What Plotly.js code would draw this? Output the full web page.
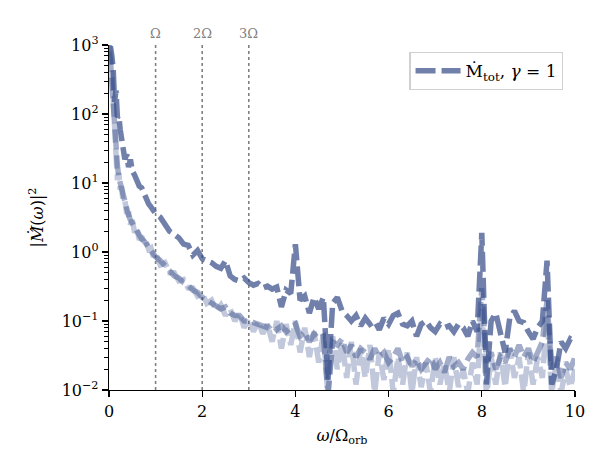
<!DOCTYPE html>
<html>
<head>
<meta charset="utf-8">
<script src="https://cdn.plot.ly/plotly-3.0.1.min.js"></script>
<style>
  html, body { margin: 0; padding: 0; background: #fff; }
  #chart { width: 601px; height: 469px; }
</style>
</head>
<body>
<div id="chart"></div>
<script>
// frequency grid, omega / Omega_orb
var freq = [0, 0.03, 0.06, 0.09, 0.12, 0.15, 0.18, 0.21, 0.24, 0.27, 0.3, 0.34, 0.38, 0.42, 0.46,
  0.5, 0.55, 0.6, 0.65, 0.7, 0.75, 0.8, 0.85, 0.9, 0.95, 1.0,
  1.1, 1.2, 1.3, 1.4, 1.5, 1.6, 1.7, 1.8, 1.9, 2.0,
  2.1, 2.2, 2.3, 2.4, 2.5, 2.6, 2.7, 2.8, 2.9, 3.0,
  3.1, 3.2, 3.3, 3.4, 3.5, 3.6, 3.7, 3.8, 3.9, 4.0,
  4.1, 4.2, 4.3, 4.4, 4.5, 4.6, 4.7, 4.8, 4.9, 5.0,
  5.1, 5.2, 5.3, 5.4, 5.5, 5.6, 5.7, 5.8, 5.9, 6.0,
  6.1, 6.2, 6.3, 6.4, 6.5, 6.6, 6.7, 6.8, 6.9, 7.0,
  7.1, 7.2, 7.3, 7.4, 7.5, 7.6, 7.7, 7.8, 7.9, 8.0,
  8.1, 8.2, 8.3, 8.4, 8.5, 8.6, 8.7, 8.8, 8.9, 9.0,
  9.1, 9.2, 9.3, 9.4, 9.5, 9.6, 9.7, 9.8, 9.9, 10.0];

// |Mdot_tot(omega)|^2, gamma = 1
var powerTot = [900, 950, 700, 450, 150, 220, 90, 95, 60, 45, 38, 22, 26, 17, 22,
  15, 13, 11, 9, 8.5, 7, 6, 5, 4.5, 4, 3.6,
  3.2, 2.5, 2.0, 1.8, 1.6, 1.3, 1.25, 0.9, 1.05, 0.8,
  0.75, 0.7, 0.62, 0.58, 0.75, 0.45, 0.4, 0.38, 0.42, 0.36,
  0.33, 0.35, 0.3, 0.32, 0.29, 0.31, 0.16, 0.28, 0.25, 1.3,
  0.2, 0.23, 0.13, 0.22, 0.15, 0.22, 0.014, 0.18, 0.22, 0.14,
  0.12, 0.1, 0.12, 0.085, 0.11, 0.09, 0.1, 0.075, 0.11, 0.09,
  0.12, 0.13, 0.09, 0.085, 0.1, 0.06, 0.09, 0.1, 0.08, 0.07,
  0.09, 0.08, 0.085, 0.07, 0.09, 0.08, 0.06, 0.1, 0.07, 1.9,
  0.012, 0.1, 0.13, 0.07, 0.035, 0.11, 0.14, 0.1, 0.095, 0.07,
  0.055, 0.08, 0.1, 0.75, 0.012, 0.02, 0.05, 0.04, 0.055, 0.05];

// companion spectra (no legend entry)
var powerB = [800, 600, 300, 120, 60, 35, 18, 12, 10, 8, 6.5, 5, 4, 3.4, 2.9,
  2.6, 2.2, 1.9, 1.7, 1.55, 1.45, 1.3, 1.2, 1.05, 0.95, 0.85,
  0.75, 0.62, 0.55, 0.45, 0.42, 0.36, 0.33, 0.28, 0.26, 0.22,
  0.2, 0.18, 0.17, 0.15, 0.16, 0.13, 0.12, 0.12, 0.1, 0.1,
  0.095, 0.09, 0.085, 0.08, 0.09, 0.075, 0.085, 0.07, 0.08, 0.09,
  0.06, 0.07, 0.05, 0.065, 0.055, 0.06, 0.009, 0.05, 0.045, 0.055,
  0.035, 0.045, 0.03, 0.04, 0.035, 0.028, 0.04, 0.03, 0.035, 0.025,
  0.03, 0.04, 0.025, 0.03, 0.022, 0.028, 0.02, 0.025, 0.03, 0.02,
  0.025, 0.018, 0.03, 0.022, 0.025, 0.02, 0.028, 0.035, 0.03, 0.3,
  0.025, 0.035, 0.02, 0.03, 0.025, 0.04, 0.03, 0.045, 0.03, 0.04,
  0.025, 0.035, 0.05, 0.2, 0.02, 0.03, 0.015, 0.025, 0.02, 0.03];

var powerC = [1000, 800, 400, 150, 80, 25, 11, 14, 8, 9, 5.5, 5.7, 3.6, 3.8, 2.5,
  2.9, 1.9, 2.2, 1.5, 1.7, 1.3, 1.4, 1.1, 1.15, 0.85, 0.95,
  0.65, 0.7, 0.5, 0.5, 0.38, 0.4, 0.3, 0.3, 0.23, 0.25,
  0.18, 0.2, 0.14, 0.17, 0.12, 0.15, 0.1, 0.13, 0.08, 0.11,
  0.07, 0.1, 0.065, 0.09, 0.05, 0.1, 0.04, 0.09, 0.045, 0.1,
  0.035, 0.08, 0.03, 0.07, 0.025, 0.065, 0.008, 0.06, 0.02, 0.05,
  0.015, 0.05, 0.012, 0.04, 0.015, 0.045, 0.009, 0.035, 0.014, 0.04,
  0.009, 0.03, 0.012, 0.035, 0.009, 0.03, 0.011, 0.025, 0.009, 0.03,
  0.012, 0.025, 0.009, 0.03, 0.011, 0.02, 0.009, 0.025, 0.012, 0.15,
  0.008, 0.03, 0.012, 0.035, 0.011, 0.04, 0.015, 0.03, 0.009, 0.035,
  0.012, 0.03, 0.015, 0.12, 0.009, 0.025, 0.009, 0.02, 0.011, 0.02];

var harmonics = [1, 2, 3];
var harmonicLabels = ['Ω', '2Ω', '3Ω'];

var yTickVals = [0.01, 0.1, 1, 10, 100, 1000];
var yTickText = ['10<sup>−2</sup>', '10<sup>−1</sup>', '10<sup>0</sup>',
  '10<sup>1</sup>', '10<sup>2</sup>', '10<sup>3</sup>'];

var minorVals = [];
for (var e = -2; e < 3; e++) {
  for (var m = 2; m < 10; m++) minorVals.push(m * Math.pow(10, e));
}

var base = '51,74,136';
var serif = 'DejaVu Serif';

function trace(y, alpha, name, show) {
  return {
    x: freq,
    y: y,
    type: 'scatter',
    mode: 'lines',
    name: name,
    showlegend: show,
    hoverinfo: 'x+y',
    line: {color: 'rgba(' + base + ',' + alpha + ')', width: 5.5, dash: '20px,6px'}
  };
}

var data = [
  trace(powerC, 0.3, 'c', false),
  trace(powerB, 0.45, 'b', false),
  trace(powerTot, 0.7, 'Ṁ<sub>tot</sub>, <i>γ</i> = 1', true)
];

var shapes = harmonics.map(function (h) {
  return {
    type: 'line', xref: 'x', yref: 'paper', x0: h, x1: h, y0: 0, y1: 1,
    layer: 'below',
    line: {color: '#808080', width: 1.6, dash: 'dot'}
  };
});

var annotations = harmonics.map(function (h, i) {
  return {
    x: h, y: 1, xref: 'x', yref: 'paper', yanchor: 'bottom', yshift: 2,
    text: harmonicLabels[i], showarrow: false,
    font: {family: serif, size: 13, color: '#808080'}
  };
});

var layout = {
  width: 601,
  height: 469,
  margin: {l: 109, r: 26, t: 45, b: 79},
  paper_bgcolor: '#fff',
  plot_bgcolor: '#fff',
  font: {family: serif, size: 16, color: '#000'},
  showlegend: true,
  legend: {
    x: 0.975, y: 0.98, xanchor: 'right', yanchor: 'top',
    bgcolor: '#fff', bordercolor: '#d0d0d0', borderwidth: 1.2,
    itemwidth: 45,
    font: {family: serif, size: 17}
  },
  xaxis: {
    range: [0, 10],
    tickvals: [0, 2, 4, 6, 8, 10],
    ticks: 'outside', ticklen: 6, tickwidth: 1.3, tickcolor: '#000',
    showline: true, linecolor: '#000', linewidth: 1.3,
    showgrid: false, zeroline: false,
    tickfont: {family: serif, size: 16},
    title: {text: '<i>ω</i>/Ω<sub>orb</sub>', font: {family: serif, size: 16}, standoff: 10}
  },
  yaxis: {
    type: 'log',
    range: [-2, 3],
    tickmode: 'array', tickvals: yTickVals, ticktext: yTickText,
    ticks: 'outside', ticklen: 6, tickwidth: 1.3, tickcolor: '#000',
    minor: {tickmode: 'array', tickvals: minorVals, ticks: 'outside', ticklen: 3.5,
      tickwidth: 1, tickcolor: '#000', showgrid: false},
    showline: true, linecolor: '#000', linewidth: 1.3,
    showgrid: false, zeroline: false,
    tickfont: {family: serif, size: 16},
    title: {text: '|<i>Ṁ̂</i>(<i>ω</i>)|<sup>2</sup>', font: {family: serif, size: 16}, standoff: 14}
  },
  shapes: shapes,
  annotations: annotations
};

Plotly.newPlot('chart', data, layout, {displayModeBar: false, staticPlot: true});
</script>
</body>
</html>
